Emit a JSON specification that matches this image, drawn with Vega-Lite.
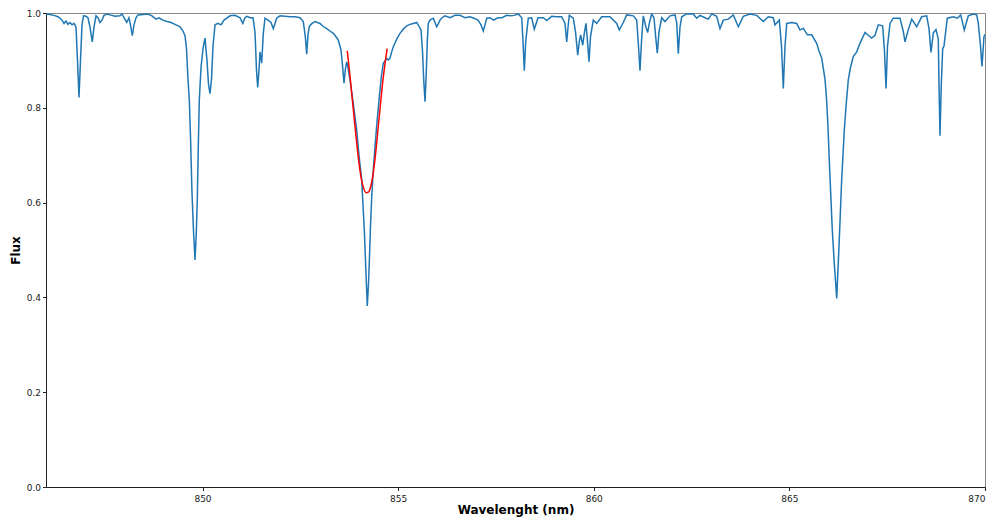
{
  "$schema": "https://vega.github.io/schema/vega-lite/v6.json",
  "autosize": "none",
  "width": 939,
  "height": 474,
  "padding": {"left": 46, "top": 13, "right": 5, "bottom": 32},
  "background": "white",
  "config": {
    "view": {"stroke": "#888", "strokeWidth": 1},
    "axis": {
      "grid": false,
      "domainColor": "#222",
      "tickColor": "#222",
      "labelFont": "DejaVu Sans",
      "labelFontSize": 9,
      "labelColor": "#222",
      "titleFont": "DejaVu Sans",
      "titleFontSize": 12,
      "titleFontWeight": "bold",
      "titleColor": "#000",
      "tickSize": 3.5
    }
  },
  "datasets": {
    "spec": [
      {"w":846.000,"f":0.998},{"w":846.102,"f":0.997},{"w":846.204,"f":0.995},{"w":846.307,"f":0.992},
      {"w":846.358,"f":0.989},{"w":846.409,"f":0.985},{"w":846.460,"f":0.978},{"w":846.511,"f":0.983},
      {"w":846.562,"f":0.976},{"w":846.613,"f":0.980},{"w":846.665,"f":0.975},{"w":846.716,"f":0.978},
      {"w":846.767,"f":0.970},{"w":846.805,"f":0.900},{"w":846.843,"f":0.822},{"w":846.882,"f":0.900},
      {"w":846.920,"f":0.975},{"w":846.958,"f":0.994},{"w":847.022,"f":0.993},{"w":847.073,"f":0.990},
      {"w":847.125,"f":0.970},{"w":847.183,"f":0.939},{"w":847.227,"f":0.970},{"w":847.278,"f":0.994},
      {"w":847.329,"f":0.990},{"w":847.380,"f":0.980},{"w":847.431,"f":0.985},{"w":847.482,"f":0.995},
      {"w":847.559,"f":0.998},{"w":847.636,"f":0.996},{"w":847.764,"f":0.993},{"w":847.891,"f":0.994},
      {"w":847.942,"f":0.998},{"w":847.994,"f":0.990},{"w":848.063,"f":0.980},{"w":848.121,"f":0.990},
      {"w":848.160,"f":0.975},{"w":848.206,"f":0.952},{"w":848.249,"f":0.975},{"w":848.300,"f":0.990},
      {"w":848.351,"f":0.996},{"w":848.479,"f":0.997},{"w":848.607,"f":0.998},{"w":848.709,"f":0.994},
      {"w":848.812,"f":0.987},{"w":848.888,"f":0.990},{"w":848.990,"f":0.985},{"w":849.093,"f":0.982},
      {"w":849.195,"f":0.980},{"w":849.297,"f":0.976},{"w":849.425,"f":0.971},{"w":849.502,"f":0.962},
      {"w":849.553,"f":0.952},{"w":849.591,"f":0.925},{"w":849.629,"f":0.860},{"w":849.663,"f":0.816},
      {"w":849.693,"f":0.740},{"w":849.732,"f":0.620},{"w":849.770,"f":0.540},{"w":849.808,"f":0.479},
      {"w":849.839,"f":0.530},{"w":849.867,"f":0.605},{"w":849.893,"f":0.720},{"w":849.918,"f":0.816},
      {"w":849.962,"f":0.885},{"w":850.013,"f":0.925},{"w":850.064,"f":0.947},{"w":850.115,"f":0.900},
      {"w":850.153,"f":0.850},{"w":850.192,"f":0.830},{"w":850.230,"f":0.860},{"w":850.268,"f":0.930},
      {"w":850.320,"f":0.975},{"w":850.396,"f":0.978},{"w":850.473,"f":0.975},{"w":850.550,"f":0.985},
      {"w":850.703,"f":0.994},{"w":850.831,"f":0.995},{"w":850.958,"f":0.990},{"w":851.028,"f":0.978},
      {"w":851.086,"f":0.990},{"w":851.137,"f":0.993},{"w":851.214,"f":0.990},{"w":851.291,"f":0.990},
      {"w":851.342,"f":0.960},{"w":851.380,"f":0.880},{"w":851.411,"f":0.843},{"w":851.444,"f":0.880},
      {"w":851.470,"f":0.918},{"w":851.513,"f":0.894},{"w":851.554,"f":0.957},{"w":851.597,"f":0.989},
      {"w":851.674,"f":0.985},{"w":851.751,"f":0.980},{"w":851.810,"f":0.967},{"w":851.896,"f":0.989},
      {"w":851.981,"f":0.994},{"w":852.109,"f":0.993},{"w":852.236,"f":0.992},{"w":852.364,"f":0.992},
      {"w":852.492,"f":0.990},{"w":852.576,"f":0.982},{"w":852.628,"f":0.950},{"w":852.663,"f":0.913},
      {"w":852.697,"f":0.955},{"w":852.730,"f":0.972},{"w":852.799,"f":0.978},{"w":852.875,"f":0.982},
      {"w":853.003,"f":0.978},{"w":853.080,"f":0.972},{"w":853.174,"f":0.967},{"w":853.259,"f":0.962},
      {"w":853.343,"f":0.957},{"w":853.412,"f":0.950},{"w":853.471,"f":0.943},{"w":853.540,"f":0.922},
      {"w":853.578,"f":0.890},{"w":853.617,"f":0.852},{"w":853.650,"f":0.880},{"w":853.686,"f":0.897},
      {"w":853.719,"f":0.885},{"w":853.770,"f":0.859},{"w":853.854,"f":0.809},{"w":853.941,"f":0.753},
      {"w":854.000,"f":0.700},{"w":854.069,"f":0.648},{"w":854.136,"f":0.542},{"w":854.179,"f":0.450},
      {"w":854.212,"f":0.382},{"w":854.243,"f":0.430},{"w":854.263,"f":0.473},{"w":854.294,"f":0.550},
      {"w":854.325,"f":0.612},{"w":854.366,"f":0.670},{"w":854.409,"f":0.718},{"w":854.460,"f":0.770},
      {"w":854.519,"f":0.823},{"w":854.570,"f":0.865},{"w":854.621,"f":0.894},{"w":854.708,"f":0.904},
      {"w":854.749,"f":0.901},{"w":854.792,"f":0.905},{"w":854.836,"f":0.918},{"w":854.877,"f":0.929},
      {"w":854.964,"f":0.945},{"w":855.048,"f":0.957},{"w":855.132,"f":0.966},{"w":855.219,"f":0.973},
      {"w":855.304,"f":0.976},{"w":855.388,"f":0.978},{"w":855.475,"f":0.980},{"w":855.534,"f":0.972},
      {"w":855.585,"f":0.964},{"w":855.623,"f":0.920},{"w":855.654,"f":0.860},{"w":855.687,"f":0.813},
      {"w":855.718,"f":0.870},{"w":855.746,"f":0.940},{"w":855.771,"f":0.978},{"w":855.815,"f":0.985},
      {"w":855.899,"f":0.989},{"w":855.942,"f":0.980},{"w":855.986,"f":0.971},{"w":856.032,"f":0.978},
      {"w":856.070,"f":0.985},{"w":856.121,"f":0.990},{"w":856.198,"f":0.994},{"w":856.326,"f":0.990},
      {"w":856.454,"f":0.995},{"w":856.581,"f":0.995},{"w":856.709,"f":0.990},{"w":856.837,"f":0.992},
      {"w":856.965,"f":0.988},{"w":857.042,"f":0.985},{"w":857.118,"f":0.975},{"w":857.177,"f":0.962},
      {"w":857.220,"f":0.975},{"w":857.264,"f":0.989},{"w":857.348,"f":0.990},{"w":857.433,"f":0.985},
      {"w":857.553,"f":0.990},{"w":857.655,"f":0.990},{"w":857.775,"f":0.995},{"w":857.859,"f":0.994},
      {"w":857.962,"f":0.995},{"w":858.072,"f":0.998},{"w":858.159,"f":0.990},{"w":858.192,"f":0.940},
      {"w":858.225,"f":0.878},{"w":858.261,"f":0.940},{"w":858.327,"f":0.989},{"w":858.414,"f":0.990},
      {"w":858.481,"f":0.966},{"w":858.575,"f":0.990},{"w":858.711,"f":0.990},{"w":858.798,"f":0.984},
      {"w":858.925,"f":0.993},{"w":859.053,"f":0.992},{"w":859.181,"f":0.992},{"w":859.265,"f":0.978},
      {"w":859.309,"f":0.939},{"w":859.342,"f":0.970},{"w":859.375,"f":0.995},{"w":859.477,"f":0.989},
      {"w":859.534,"f":0.960},{"w":859.590,"f":0.911},{"w":859.631,"f":0.940},{"w":859.666,"f":0.954},
      {"w":859.718,"f":0.932},{"w":859.764,"f":0.960},{"w":859.802,"f":0.978},{"w":859.840,"f":0.940},
      {"w":859.879,"f":0.897},{"w":859.917,"f":0.950},{"w":859.988,"f":0.985},{"w":860.075,"f":0.978},
      {"w":860.203,"f":0.992},{"w":860.415,"f":0.992},{"w":860.587,"f":0.978},{"w":860.653,"f":0.964},
      {"w":860.755,"f":0.980},{"w":860.842,"f":0.996},{"w":861.011,"f":0.994},{"w":861.098,"f":0.985},
      {"w":861.144,"f":0.930},{"w":861.182,"f":0.878},{"w":861.220,"f":0.940},{"w":861.266,"f":0.994},
      {"w":861.335,"f":0.970},{"w":861.379,"f":0.959},{"w":861.425,"f":0.980},{"w":861.481,"f":0.998},
      {"w":861.540,"f":0.990},{"w":861.583,"f":0.950},{"w":861.624,"f":0.915},{"w":861.668,"f":0.960},
      {"w":861.737,"f":0.990},{"w":861.821,"f":0.982},{"w":861.949,"f":0.994},{"w":862.077,"f":0.996},
      {"w":862.120,"f":0.980},{"w":862.161,"f":0.914},{"w":862.204,"f":0.970},{"w":862.248,"f":0.992},
      {"w":862.376,"f":0.998},{"w":862.544,"f":0.998},{"w":862.631,"f":0.989},{"w":862.716,"f":0.995},
      {"w":862.843,"f":0.990},{"w":862.928,"f":0.987},{"w":863.015,"f":0.998},{"w":863.142,"f":0.993},
      {"w":863.227,"f":0.967},{"w":863.311,"f":0.985},{"w":863.439,"f":0.987},{"w":863.567,"f":0.996},
      {"w":863.695,"f":0.971},{"w":863.822,"f":0.993},{"w":863.994,"f":0.998},{"w":864.165,"f":0.995},
      {"w":864.334,"f":0.982},{"w":864.461,"f":0.992},{"w":864.589,"f":0.990},{"w":864.633,"f":0.975},
      {"w":864.743,"f":0.985},{"w":864.799,"f":0.930},{"w":864.845,"f":0.841},{"w":864.888,"f":0.930},
      {"w":864.932,"f":0.978},{"w":865.059,"f":0.980},{"w":865.187,"f":0.978},{"w":865.272,"f":0.964},
      {"w":865.356,"f":0.968},{"w":865.458,"f":0.954},{"w":865.571,"f":0.954},{"w":865.698,"f":0.936},
      {"w":865.757,"f":0.920},{"w":865.826,"f":0.905},{"w":865.911,"f":0.860},{"w":865.949,"f":0.820},
      {"w":865.987,"f":0.760},{"w":866.020,"f":0.690},{"w":866.097,"f":0.542},{"w":866.148,"f":0.472},
      {"w":866.210,"f":0.398},{"w":866.268,"f":0.507},{"w":866.337,"f":0.648},{"w":866.404,"f":0.753},
      {"w":866.455,"f":0.810},{"w":866.506,"f":0.859},{"w":866.562,"f":0.885},{"w":866.634,"f":0.908},
      {"w":866.721,"f":0.918},{"w":866.805,"f":0.936},{"w":866.933,"f":0.959},{"w":867.017,"f":0.953},
      {"w":867.104,"f":0.947},{"w":867.189,"f":0.953},{"w":867.273,"f":0.975},{"w":867.385,"f":0.973},
      {"w":867.431,"f":0.920},{"w":867.470,"f":0.841},{"w":867.508,"f":0.930},{"w":867.572,"f":0.978},
      {"w":867.656,"f":0.989},{"w":867.827,"f":0.989},{"w":867.912,"f":0.961},{"w":867.955,"f":0.939},
      {"w":868.040,"f":0.965},{"w":868.127,"f":0.987},{"w":868.254,"f":0.971},{"w":868.382,"f":0.992},
      {"w":868.510,"f":0.994},{"w":868.569,"f":0.967},{"w":868.620,"f":0.917},{"w":868.679,"f":0.958},
      {"w":868.748,"f":0.965},{"w":868.806,"f":0.945},{"w":868.824,"f":0.850},{"w":868.850,"f":0.741},
      {"w":868.883,"f":0.850},{"w":868.919,"f":0.925},{"w":868.952,"f":0.930},{"w":869.036,"f":0.989},
      {"w":869.190,"f":0.992},{"w":869.292,"f":0.989},{"w":869.379,"f":0.996},{"w":869.471,"f":0.964},
      {"w":869.573,"f":0.994},{"w":869.701,"f":0.998},{"w":869.788,"f":0.996},{"w":869.829,"f":0.978},
      {"w":869.885,"f":0.930},{"w":869.923,"f":0.887},{"w":869.974,"f":0.950},{"w":870.000,"f":0.955}
    ],
    "fit": [
      {"w":853.70,"f":0.920},{"w":853.76,"f":0.875},{"w":853.82,"f":0.825},{"w":853.88,"f":0.775},
      {"w":853.94,"f":0.727},{"w":854.00,"f":0.683},{"w":854.06,"f":0.650},{"w":854.12,"f":0.630},
      {"w":854.18,"f":0.621},{"w":854.24,"f":0.622},{"w":854.30,"f":0.634},{"w":854.36,"f":0.660},
      {"w":854.42,"f":0.700},{"w":854.48,"f":0.750},{"w":854.54,"f":0.800},{"w":854.60,"f":0.850},
      {"w":854.66,"f":0.890},{"w":854.72,"f":0.925}
    ]
  },
  "layer": [
    {
      "data": {"name": "spec"},
      "mark": {"type": "line", "color": "#1f77b4", "strokeWidth": 1.5, "clip": true},
      "encoding": {
        "x": {"field": "w", "type": "quantitative",
              "scale": {"domain": [846, 870], "nice": false, "zero": false},
              "axis": {"values": [850, 855, 860, 865, 870], "format": "d", "title": "Wavelenght (nm)", "titlePadding": 1, "labelPadding": 4}},
        "y": {"field": "f", "type": "quantitative",
              "scale": {"domain": [0, 1], "nice": false},
              "axis": {"values": [0, 0.2, 0.4, 0.6, 0.8, 1.0], "format": ".1f", "title": "Flux", "titlePadding": 4}}
      }
    },
    {
      "data": {"name": "fit"},
      "mark": {"type": "line", "color": "#ff0000", "strokeWidth": 1.5, "interpolate": "monotone"},
      "encoding": {
        "x": {"field": "w", "type": "quantitative"},
        "y": {"field": "f", "type": "quantitative"}
      }
    }
  ]
}
